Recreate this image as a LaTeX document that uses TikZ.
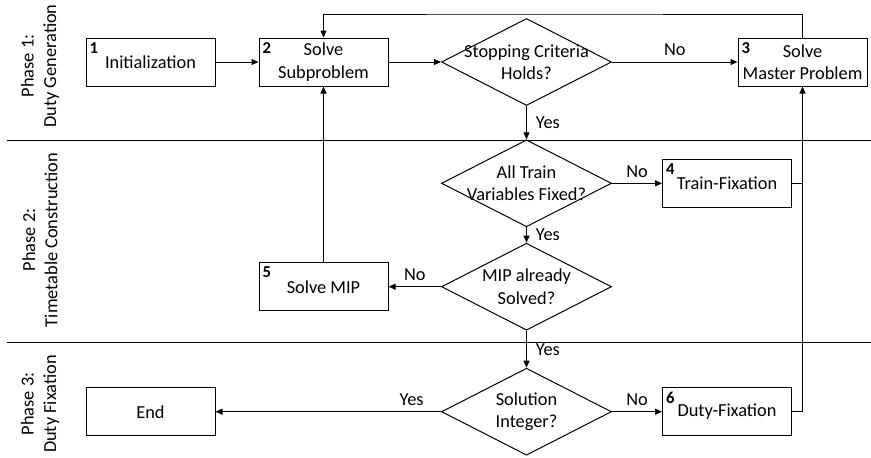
\documentclass[tikz,border=0pt]{standalone}
\usepackage{fontspec}
\setmainfont{Carlito}
\usetikzlibrary{shapes.geometric,arrows.meta}

\tikzset{
  every node/.style={font=\fontsize{11}{13.4}\selectfont},
  stepbox/.style={draw, minimum width=77.4pt, minimum height=28.8pt, inner sep=0pt, align=center},
  decision/.style={draw, diamond, minimum width=102pt, minimum height=52.2pt, inner sep=0pt,
    label={[align=center]center:#1}},
  tag/.style={label={[anchor=north west, font=\fontsize{10}{11}\selectfont\bfseries,
    inner xsep=2.2pt, inner ysep=2.6pt]north west:#1}},
  phase/.style={rotate=90, align=center},
  yeslab/.style={right, xshift=2pt}
}

\begin{document}
\begin{tikzpicture}[x=0.6pt, y=-0.6pt, line width=0.6pt, >={Triangle[length=4.2pt,width=3.6pt]}]
\useasboundingbox (0,0) rectangle (871,457);
% phases
\draw (7,140) -- (871,140);
\draw (7,342) -- (871,342);
\node[phase] (p1) at (40,66) {Phase 1:\\Duty Generation};
\node[phase] (p2) at (40,240) {Phase 2:\\Timetable Construction};
\node[phase] (p3) at (40,404) {Phase 3:\\Duty Fixation};

% steps
\node[stepbox, tag=1] (init) at (150.5,62) {Initialization};
\node[stepbox, tag=2] (sub) at (323.5,62) {Solve\\Subproblem};
\node[decision={Stopping Criteria\\Holds?}] (stop) at (526.5,62) {};
\node[stepbox, tag=3] (master) at (802.5,62) {Solve\\Master Problem};
\node[decision={All Train\\Variables Fixed?}] (trainq) at (526.5,183.3) {};
\node[stepbox, tag=4] (train) at (727,183.3) {Train-Fixation};
\node[decision={MIP already\\Solved?}] (mipq) at (526.5,286.7) {};
\node[stepbox, tag=5] (mip) at (323.5,286.7) {\raisebox{-2pt}{Solve MIP}};
\node[decision={Solution\\Integer?}] (intq) at (526.5,411.7) {};
\node[stepbox, tag=6] (duty) at (727,411.7) {Duty-Fixation};
\node[stepbox] (end) at (150.5,411.7) {End};
\coordinate (loop) at (526.5,14);

% flow
\draw[->] (init) -- (sub);
\draw[->] (sub) -- (stop);
\draw[->] (stop) -- node[above] {No} (master);
\draw[->] (master.north) |- (loop) -| (sub.north);
\draw[->] (stop) -- node[yeslab] {Yes} (trainq);
\draw[->] (trainq) -- node[above] {No} (train);
\draw (train.east) -- (train.east -| master.south);
\draw[->] (duty.east) -| (master.south);
\draw[->] (trainq) -- node[yeslab] {Yes} (mipq);
\draw[->] (mipq) -- node[above] {No} (mip);
\draw[->] (mip) -- (sub);
\draw[->] (mipq) -- node[yeslab] {Yes} (intq);
\draw[->] (intq) -- node[above] {No} (duty);
\draw[->] (intq) -- node[above, pos=0.13] {Yes} (end);
\end{tikzpicture}
\end{document}
